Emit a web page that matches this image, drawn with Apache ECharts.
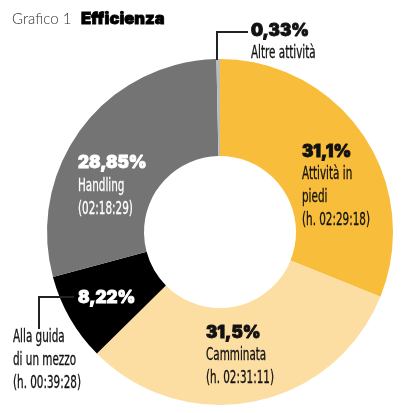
<!DOCTYPE html>
<html>
<head>
<meta charset="utf-8">
<script src="https://cdn.jsdelivr.net/npm/echarts@6/dist/echarts.min.js"></script>
<style>
html,body{margin:0;padding:0;background:#fff;}
#c{width:403px;height:413px;}
</style>
</head>
<body>
<div id="c"></div>
<script>
const categories = ['Attività in piedi', 'Camminata', 'Alla guida di un mezzo', 'Handling', 'Altre attività'];
const values = [31.1, 31.5, 8.22, 28.85, 0.33];
const percentLabels = ['31,1%', '31,5%', '8,22%', '28,85%', '0,33%'];
const nameLines = [['Attività in', 'piedi'], ['Camminata'], ['Alla guida', 'di un mezzo'], ['Handling'], ['Altre attività']];
const durations = ['(h. 02:29:18)', '(h. 02:31:11)', '(h. 00:39:28)', '(02:18:29)', ''];
const colors = ['#F8BD3A', '#FDDEA2', '#000000', '#747474', '#BBBBBB'];

// label layout (pixel anchors): [pctX, pctY, textX, textY, pctColor, textColor]
const labelPos = [
  [302, 152, 302, 175, '#111', '#111'],
  [206, 333, 206, 356, '#111', '#111'],
  [78, 298, 13, 338, '#fff', '#111'],
  [78, 163, 78, 187, '#fff', '#fff'],
  [251, 31, 251, 54, '#111', '#111']
];

const pctFont = 'Inter, Lato, sans-serif';
const txtFont = '"DejaVu Sans Condensed", "Liberation Sans Narrow", sans-serif';

const graphics = [];
graphics.push({type:'text', style:{x:12, y:19, text:'Grafico 1', font:'300 15px Lato, sans-serif', fill:'#333', textVerticalAlign:'middle'}});
graphics.push({type:'text', style:{x:81, y:19, text:'Efficienza', font:'900 16.5px ' + pctFont, fill:'#000', stroke:'#000', lineWidth:0.8, textVerticalAlign:'middle'}});

categories.forEach((c, i) => {
  const p = labelPos[i];
  graphics.push({type:'text', z:10, style:{x:p[0], y:p[1], text:percentLabels[i], font:'900 17px ' + pctFont, fill:p[4], stroke:p[4], lineWidth:0.9, textVerticalAlign:'middle'}});
  const lines = nameLines[i].concat(durations[i] ? [durations[i]] : []);
  lines.forEach((l, k) => {
    graphics.push({type:'text', z:10, x:p[2], y:p[3] + k * 23, scaleX:0.68,
      style:{x:0, y:0, text:l, font:'17px ' + txtFont, fill:p[5], stroke:p[5], lineWidth:0.3, textVerticalAlign:'middle'}});
  });
});
graphics.push({type:'polyline', z:10, shape:{points:[[248,32],[217,32],[217,60]]}, style:{stroke:'#222', lineWidth:2, fill:null}});
graphics.push({type:'polyline', z:10, shape:{points:[[74,297],[39,297],[39,329]]}, style:{stroke:'#222', lineWidth:2, fill:null}});

const chart = echarts.init(document.getElementById('c'), null, {renderer:'canvas'});
chart.setOption({
  animation:false,
  backgroundColor:'#fff',
  graphic: graphics,
  series:[{
    type:'pie',
    center:[220, 232],
    radius:[76, 173],
    startAngle:90,
    clockwise:true,
    avoidLabelOverlap:false,
    label:{show:false},
    labelLine:{show:false},
    emphasis:{disabled:true},
    itemStyle:{borderWidth:0},
    data: categories.map((c, i) => ({name:c, value:values[i], itemStyle:{color:colors[i]}}))
  }]
});
</script>
</body>
</html>
